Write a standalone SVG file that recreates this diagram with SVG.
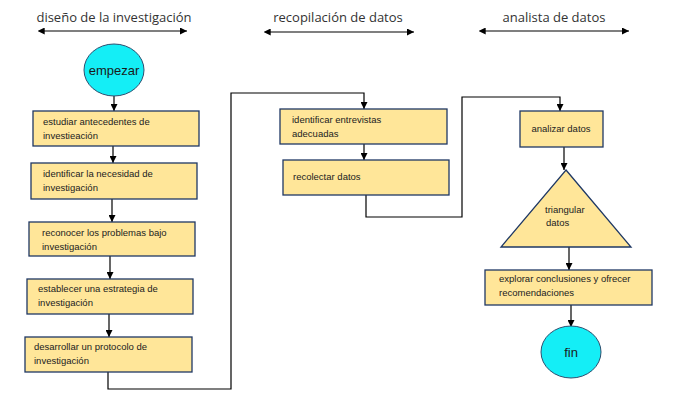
<svg xmlns="http://www.w3.org/2000/svg" width="700" height="411" viewBox="0 0 700 411">
<defs>
<marker id="ah" viewBox="0 0 10 10" refX="10" refY="5" markerWidth="7" markerHeight="7" markerUnits="userSpaceOnUse" orient="auto"><path d="M0,0 L10,5 L0,10 z" fill="#000"/></marker>
<marker id="as" viewBox="0 0 10 10" refX="1" refY="5" markerWidth="7" markerHeight="7" markerUnits="userSpaceOnUse" orient="auto-start-reverse"><path d="M0,0 L10,5 L0,10 z" fill="#000"/></marker>
<style>
.box{fill:#FFE699;stroke:#1F3864;stroke-width:1.3}
.ell{fill:#14EEF6;stroke:#2F4F6F;stroke-width:1}
.t{font-family:"Liberation Sans",Arial,sans-serif;font-size:9.5px;fill:#222}
.h{font-family:"Open Sans","Liberation Sans",sans-serif;font-size:13px;fill:#333}
.e{font-family:"Liberation Sans",Arial,sans-serif;font-size:13px;fill:#1a1a1a;text-anchor:middle}
.c{fill:none;stroke:#000;stroke-width:1.2}
</style>
</defs>
<rect width="700" height="411" fill="#fff"/>
<g id="headers">
<text class="h" x="114" y="22" text-anchor="middle">diseño de la investigación</text>
<text class="h" x="338" y="22" text-anchor="middle">recopilación de datos</text>
<text class="h" x="554" y="22" text-anchor="middle">analista de datos</text>
<line class="c" x1="44" y1="31" x2="187" y2="31" marker-start="url(#as)" marker-end="url(#ah)"/>
<line class="c" x1="270" y1="32" x2="414" y2="32" marker-start="url(#as)" marker-end="url(#ah)"/>
<line class="c" x1="485" y1="31" x2="629" y2="31" marker-start="url(#as)" marker-end="url(#ah)"/>
</g>
<g id="connectors">
<line class="c" x1="114" y1="96" x2="114" y2="111" marker-end="url(#ah)"/>
<line class="c" x1="113" y1="146" x2="113" y2="163" marker-end="url(#ah)"/>
<line class="c" x1="112" y1="199" x2="112" y2="222" marker-end="url(#ah)"/>
<line class="c" x1="110" y1="256" x2="110" y2="279" marker-end="url(#ah)"/>
<line class="c" x1="109" y1="314" x2="109" y2="337" marker-end="url(#ah)"/>
<polyline class="c" points="108,372 108,389 231,389 231,93 364,93 364,109" marker-end="url(#ah)"/>
<line class="c" x1="364" y1="144" x2="364" y2="160" marker-end="url(#ah)"/>
<polyline class="c" points="366,195 366,217 462,217 462,97 560,97 560,111" marker-end="url(#ah)"/>
<line class="c" x1="564" y1="147" x2="564" y2="170" marker-end="url(#ah)"/>
<line class="c" x1="569" y1="247" x2="569" y2="270" marker-end="url(#ah)"/>
<line class="c" x1="571" y1="305" x2="571" y2="327" marker-end="url(#ah)"/>
</g>
<g id="empezar">
<ellipse class="ell" cx="114" cy="70" rx="30" ry="26"/>
<text class="e" x="114" y="75">empezar</text>
</g>
<g id="estudiar">
<rect class="box" x="33" y="111" width="166" height="35"/>
<text class="t" x="43" y="125">estudiar antecedentes de</text>
<text class="t" x="43" y="139">investieación</text>
</g>
<g id="identificar-necesidad">
<rect class="box" x="31" y="163" width="166" height="36"/>
<text class="t" x="43" y="177">identificar la necesidad de</text>
<text class="t" x="43" y="191">investigación</text>
</g>
<g id="reconocer">
<rect class="box" x="29" y="222" width="166" height="34"/>
<text class="t" x="42" y="236">reconocer los problemas bajo</text>
<text class="t" x="42" y="250">investigación</text>
</g>
<g id="establecer">
<rect class="box" x="27" y="279" width="166" height="35"/>
<text class="t" x="38" y="292">establecer una estrategia de</text>
<text class="t" x="38" y="306">investigación</text>
</g>
<g id="desarrollar">
<rect class="box" x="25" y="337" width="167" height="35"/>
<text class="t" x="34" y="350">desarrollar un protocolo de</text>
<text class="t" x="34" y="364">investigación</text>
</g>
<g id="identificar-entrevistas">
<rect class="box" x="280" y="109" width="167" height="35"/>
<text class="t" x="292" y="123">identificar entrevistas</text>
<text class="t" x="292" y="137">adecuadas</text>
</g>
<g id="recolectar">
<rect class="box" x="283" y="160" width="166" height="35"/>
<text class="t" x="293" y="180">recolectar datos</text>
</g>
<g id="analizar">
<rect class="box" x="520" y="111" width="83" height="36"/>
<text class="t" x="561" y="132" text-anchor="middle">analizar datos</text>
</g>
<g id="triangular">
<polygon class="box" points="566,170 631,247 501,247"/>
<text class="t" x="545" y="213">triangular</text>
<text class="t" x="546" y="226">datos</text>
</g>
<g id="explorar">
<rect class="box" x="485" y="270" width="167" height="35"/>
<text class="t" x="499" y="282">explorar conclusiones y ofrecer</text>
<text class="t" x="499" y="296">recomendaciones</text>
</g>
<g id="fin">
<ellipse class="ell" cx="571" cy="352" rx="30" ry="26"/>
<text class="e" x="571" y="357">fin</text>
</g>
</svg>
